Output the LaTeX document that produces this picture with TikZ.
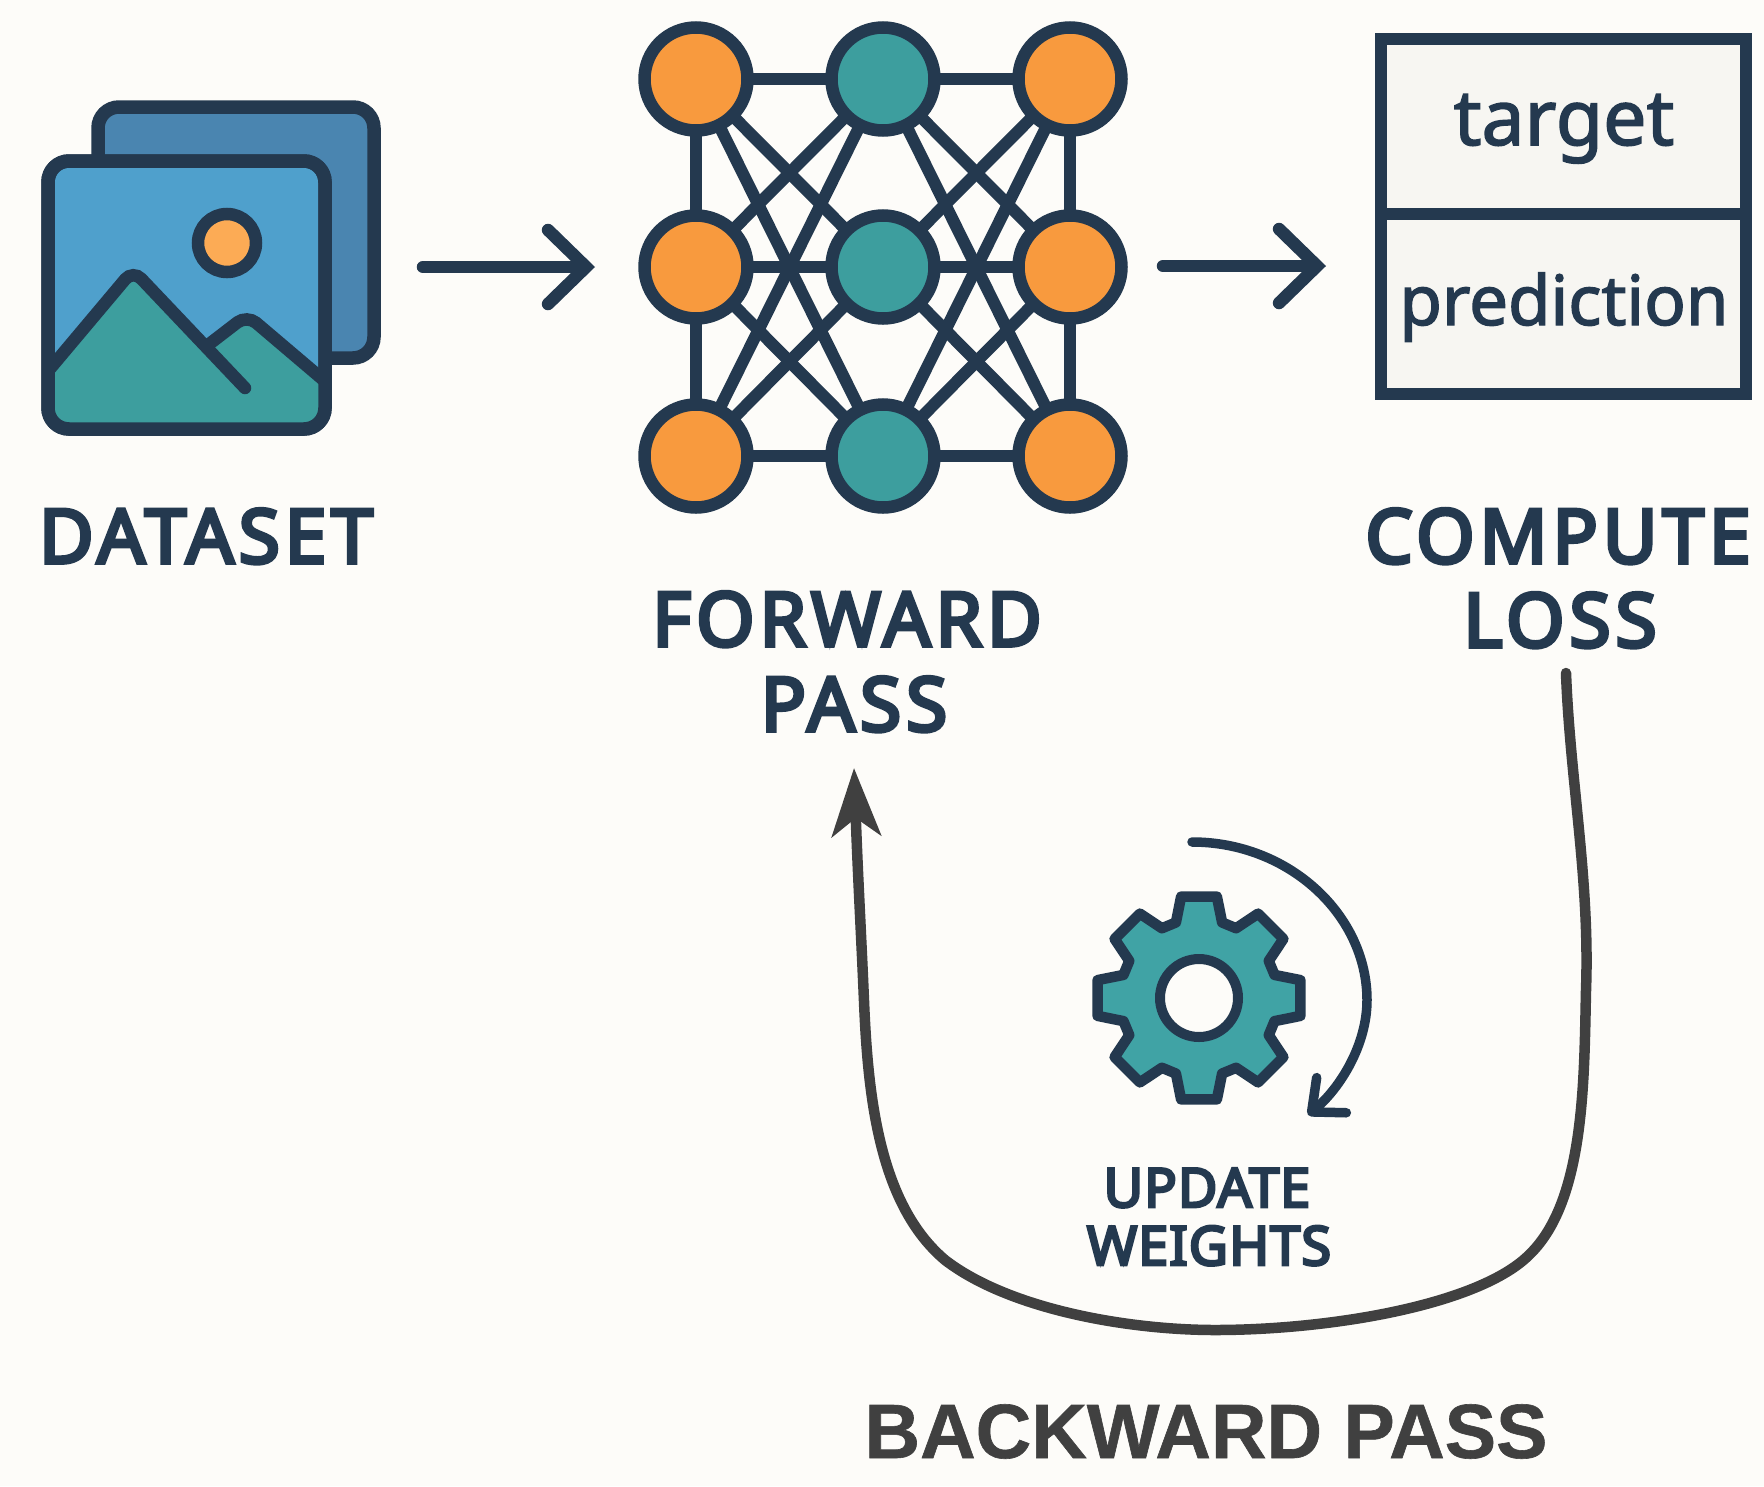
\documentclass[tikz,border=0pt]{standalone}
\usepackage{xcolor}
\usepackage{fontspec}
\setmainfont{Noto Sans}
\newfontfamily\backfont{Liberation Sans}[FakeBold=0.8]
\newfontfamily\capfont{Noto Sans}[FakeBold=5, LetterSpace=6.5]
\newfontfamily\smallcapfont{Noto Sans}[FakeBold=5, LetterSpace=2]
\newfontfamily\cellfont{Noto Sans}[FakeBold=2]
\usetikzlibrary{arrows.meta}
\definecolor{inkblue}{HTML}{24394F}
\definecolor{paper}{HTML}{FDFCF9}
\definecolor{cellpaper}{HTML}{F7F6F2}
\definecolor{backblue}{HTML}{4A85B0}
\definecolor{frontblue}{HTML}{4FA0CC}
\definecolor{teal1}{HTML}{3D9E9E}
\definecolor{gearteal}{HTML}{40A3A5}
\definecolor{orange1}{HTML}{F89A3E}
\definecolor{sunorange}{HTML}{FCAB55}
\definecolor{gray1}{HTML}{404040}
\tikzset{
	orangeunit/.style={shape=circle, draw=inkblue, line width=12.5pt, fill=orange1, minimum size=103pt, inner sep=0},
	tealunit/.style={orangeunit, fill=teal1},
	wire/.style={draw=inkblue, line width=12pt},
	frame/.style={shape=rectangle, draw=inkblue, line width=13.5pt, inner sep=0, rounded corners=21pt},
	lossbox/.style={shape=rectangle, draw=inkblue, line width=12pt, fill=cellpaper, inner sep=0, minimum width=365pt},
	ridge/.style={draw=inkblue, line width=12.5pt, line cap=round, rounded corners=12pt},
	flowarrow/.style={draw=inkblue, line width=12.5pt, line cap=round, -{Straight Barb[length=38pt, width=74pt, line cap=round, line join=miter]}},
	caption/.style={anchor=base, text=inkblue, font=\fontsize{75}{75}\capfont, inner sep=0},
	smallcaption/.style={caption, font=\fontsize{54}{54}\smallcapfont},
	celltext/.style={anchor=base, text=inkblue, font=\fontsize{77}{77}\cellfont},
}
\begin{document}
\begin{tikzpicture}[x=1pt, y=-1pt]
	\useasboundingbox[fill=paper] (0, 0) rectangle (1764, 1486);
	% Dataset icon:
	\node[frame, fill=backblue, minimum width=276pt, minimum height=251pt](Rect1) at (236, 232.5){};
	\node[frame, fill=frontblue, minimum width=277pt, minimum height=268pt](Rect2) at (186.5, 295){};
	\begin{scope}
		\clip[rounded corners=21pt] (48, 161) rectangle (325, 429);
		\fill[teal1] (195, 355) -- (247, 315) -- (345, 397) -- (345, 440) -- (195, 440) -- cycle;
		\fill[teal1] (30, 395) -- (133, 270) -- (280, 425) -- (280, 440) -- (30, 440) -- cycle;
		\draw[ridge] (208, 345) -- (247, 315) -- (340, 394);
		\draw[ridge] (38, 383) -- (133, 270) -- (245, 388);
	\end{scope}
	\node[frame, minimum width=277pt, minimum height=268pt](Rect3) at (186.5, 295){};
	\node[shape=circle, draw=inkblue, line width=12.5pt, fill=sunorange, minimum size=58pt, inner sep=0](Sun) at (227, 243){};
	\node[caption](T1) at (206, 563){DATASET};
	% Network, wires first:
	\coordinate (P1) at (696, 79);
	\coordinate (P2) at (883, 79);
	\coordinate (P3) at (1070, 79);
	\coordinate (P4) at (696, 267);
	\coordinate (P5) at (883, 267);
	\coordinate (P6) at (1070, 267);
	\coordinate (P7) at (696, 456);
	\coordinate (P8) at (883, 456);
	\coordinate (P9) at (1070, 456);
	\draw[wire] (P1) -- (P2) -- (P3) -- (P6) -- (P9) -- (P8) -- (P7) -- (P4) -- (P1);
	\draw[wire] (P4) -- (P5) -- (P6);
	\draw[wire] (P1) -- (P5);
	\draw[wire] (P1) -- (P8);
	\draw[wire] (P4) -- (P2);
	\draw[wire] (P4) -- (P8);
	\draw[wire] (P7) -- (P2);
	\draw[wire] (P7) -- (P5);
	\draw[wire] (P2) -- (P6);
	\draw[wire] (P2) -- (P9);
	\draw[wire] (P5) -- (P3);
	\draw[wire] (P5) -- (P9);
	\draw[wire] (P8) -- (P3);
	\draw[wire] (P8) -- (P6);
	\node[orangeunit](N1) at (P1){};
	\node[tealunit](N2) at (P2){};
	\node[orangeunit](N3) at (P3){};
	\node[orangeunit](N4) at (P4){};
	\node[tealunit](N5) at (P5){};
	\node[orangeunit](N6) at (P6){};
	\node[orangeunit](N7) at (P7){};
	\node[tealunit](N8) at (P8){};
	\node[orangeunit](N9) at (P9){};
	\node[caption](T2) at (847, 646){FORWARD};
	\node[caption](T3) at (854, 731){PASS};
	% Loss table:
	\node[lossbox, minimum height=175pt](Rect4) at (1563.5, 126.5){};
	\node[lossbox, minimum height=180pt](Rect5) at (1563.5, 304){};
	\node[celltext](T4) at (1564, 145){target};
	\node[celltext, font=\fontsize{69}{69}\cellfont](T5) at (1564, 325){prediction};
	\node[caption](T6) at (1558, 563){COMPUTE};
	\node[caption](T7) at (1560, 647){LOSS};
	% Arrows between the stages:
	\coordinate (A1) at (423, 267);
	\coordinate (A2) at (595, 267);
	\coordinate (A3) at (1163, 266);
	\coordinate (A4) at (1326, 266);
	\draw[flowarrow] (A1) -- (A2);
	\draw[flowarrow] (A3) -- (A4);
	% Gear:
	\begin{scope}[shift={(1199, 998)}]
		\draw[draw=inkblue, fill=gearteal, line width=10.5pt, line join=round]
			(-17:79) \foreach \a in {0, 45, ..., 315} {-- (\a-17:79) -- (\a-10:103) -- (\a+10:103) -- (\a+17:79)} -- cycle;
		\node[shape=circle, draw=inkblue, line width=10pt, fill=paper, minimum size=78pt, inner sep=0](Hole) at (0, 0){};
	\end{scope}
	\coordinate (A5) at (1192, 842);
	\coordinate (A6) at (1308, 1115);
	\draw[draw=inkblue, line width=9.5pt, line cap=round, -{Straight Barb[length=26pt, width=46pt, round]}] (A5) .. controls (1289, 842) and (1367, 915) .. (1367, 1000) .. controls (1367, 1045) and (1340, 1088) .. (A6);
	\node[smallcaption](T8) at (1207, 1207){UPDATE};
	\node[smallcaption](T9) at (1209, 1265){WEIGHTS};
	% Backward pass:
	\coordinate (A7) at (1566, 673);
	\coordinate (A8) at (854, 768);
	\draw[draw=gray1, line width=10.5pt, line cap=round, -{Stealth[length=68pt, width=49pt, inset=18pt]}] (A7) .. controls (1570, 780) and (1590, 880) .. (1586, 990) .. controls (1584, 1080) and (1585, 1200) .. (1530, 1254) .. controls (1480, 1305) and (1330, 1330) .. (1215, 1330) .. controls (1130, 1330) and (1010, 1310) .. (945, 1260) .. controls (880, 1205) and (868, 1100) .. (864, 1001) .. controls (861, 930) and (858, 880) .. (A8);
	\node[caption, text=gray1, font=\fontsize{77}{77}\backfont\bfseries](T10) at (1206, 1458){BACKWARD PASS};
\end{tikzpicture}
\end{document}
